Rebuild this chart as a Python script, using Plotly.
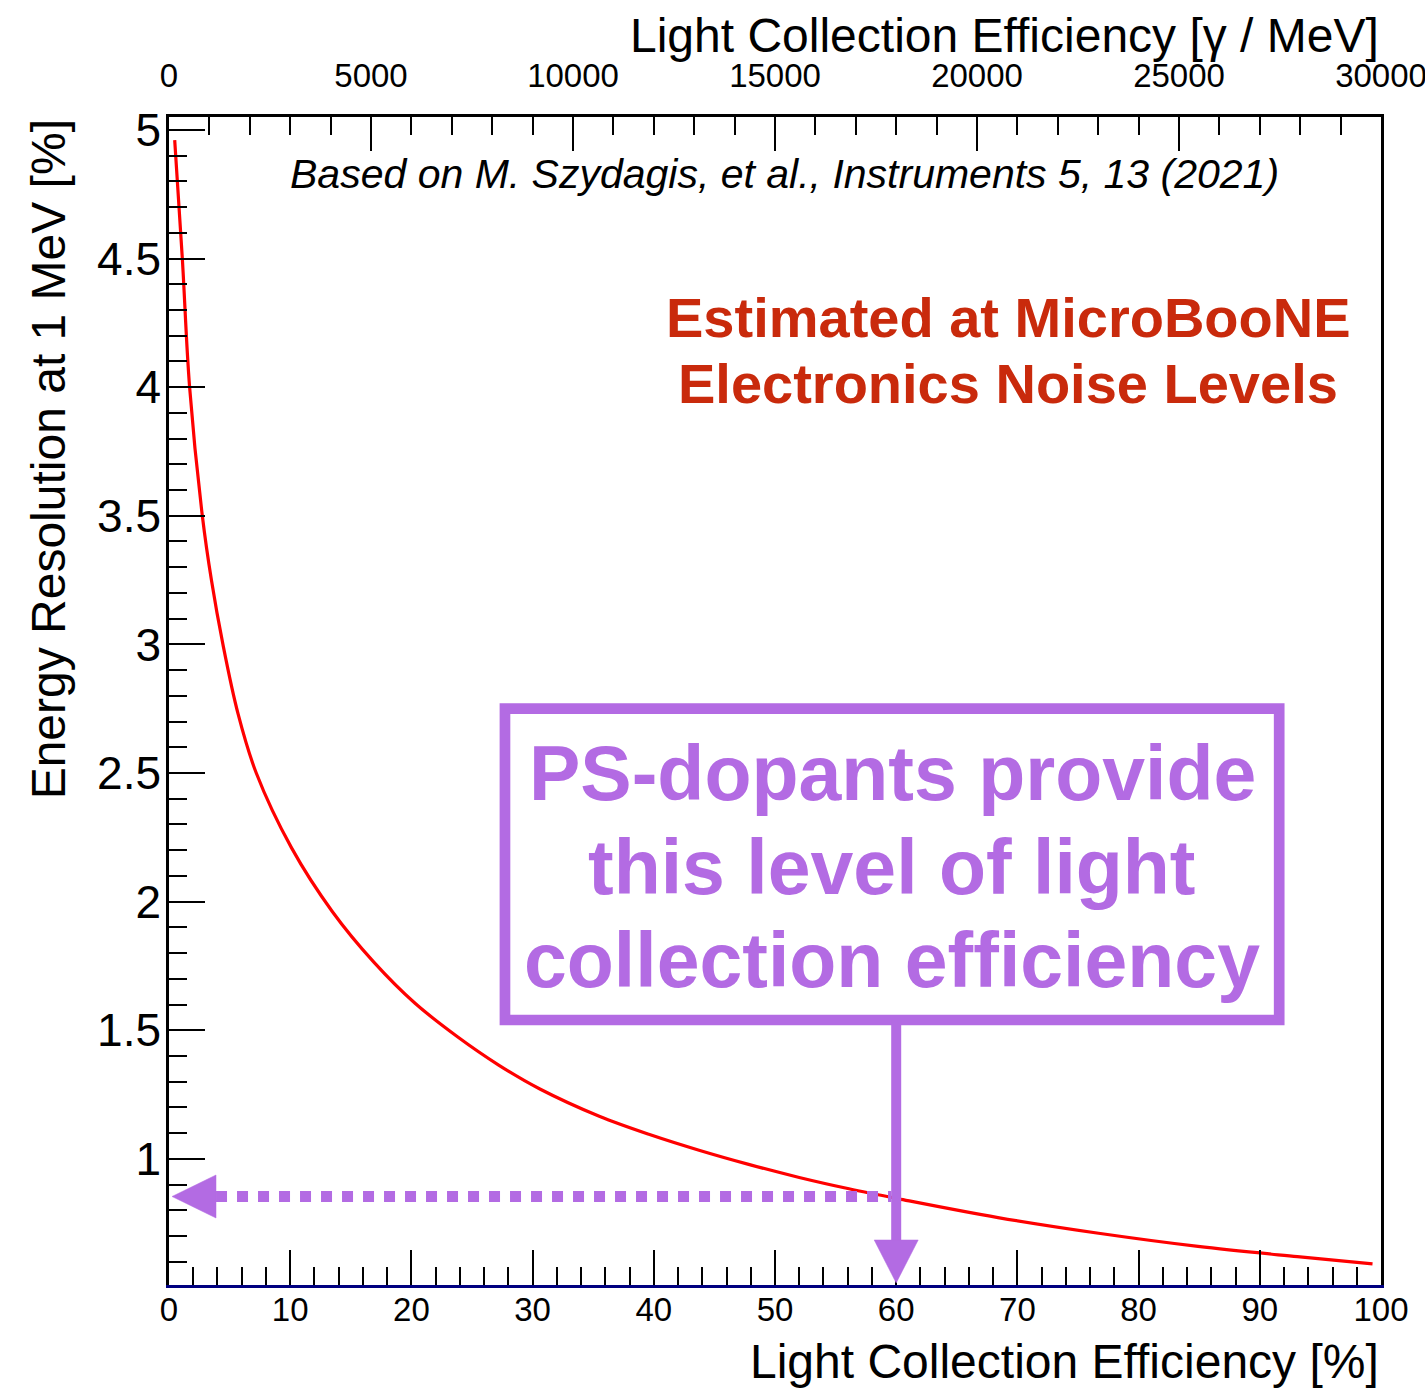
import plotly.graph_objects as go

# Energy resolution at 1 MeV versus light collection efficiency
eff_pct = [0.47, 1.1, 1.7, 2.75, 3.5, 4.45, 5.7, 7.2, 10.1, 13.5, 16.9, 20.3, 23.8, 27.2,
           30.6, 35.5, 39.65, 43.8, 47.9, 52.0, 56.1, 60.2, 68.4, 76.7, 84.9, 93.1, 99.3]
resolution = [4.96, 4.5, 4.0, 3.5, 3.25, 3.0, 2.73, 2.5, 2.21, 1.96, 1.765, 1.605, 1.475, 1.365,
              1.272, 1.166, 1.095, 1.033, 0.978, 0.928, 0.884, 0.845, 0.772, 0.711, 0.660,
              0.620, 0.592]

# Operating point highlighted by the arrows
ps_eff = 60
ps_res = 0.854

y_ticks = [1, 1.5, 2, 2.5, 3, 3.5, 4, 4.5, 5]
y_ticktext = ["1", "1.5", "2", "2.5", "3", "3.5", "4", "4.5", "5"]
x_ticks = [0, 10, 20, 30, 40, 50, 60, 70, 80, 90, 100]
top_ticks = [0, 5000, 10000, 15000, 20000, 25000, 30000]
top_ticktext = ["0", "5000", "10000", "15000", "20000", "25000", "30000"]

W, H = 1425, 1388
L, R, T, B = 169, 1381, 117, 1285
FONT = "Liberation Sans"
PURPLE = "#B36BE3"
DARKRED = "#C92A0C"


def px(x):
    return (x - L) / (R - L)


def py(y):
    return (B - y) / (B - T)


fig = go.Figure()
fig.add_trace(go.Scatter(
    x=eff_pct, y=resolution, mode="lines",
    line=dict(color="#FF0000", width=3.2, shape="spline", smoothing=1.0),
    hoverinfo="skip", showlegend=False,
))
# empty trace so the top axis is drawn
fig.add_trace(go.Scatter(x=[], y=[], xaxis="x2", yaxis="y", showlegend=False))

tickfont_small = dict(family=FONT, size=33, color="black")

fig.update_layout(
    width=W, height=H,
    margin=dict(l=L, r=W - R, t=T, b=H - B),
    paper_bgcolor="white", plot_bgcolor="white",
    showlegend=False,
    xaxis=dict(
        range=[0, 100], tickvals=x_ticks, ticks="inside", ticklen=35, tickwidth=2,
        tickcolor="black", showline=True, linecolor="#000080", linewidth=3,
        showgrid=False, zeroline=False, tickfont=tickfont_small, ticklabelstandoff=-7,
        ticklabeloverflow="allow", automargin=False,
        minor=dict(dtick=2, tick0=0, ticks="inside", ticklen=18, tickwidth=2,
                   tickcolor="black", showgrid=False),
    ),
    xaxis2=dict(
        range=[0, 30000], overlaying="x", side="top", tickvals=top_ticks,
        ticktext=top_ticktext, ticklabeloverflow="allow", automargin=False,
        ticks="inside", ticklen=34, tickwidth=2, tickcolor="black",
        showline=True, linecolor="black", linewidth=2.5, showgrid=False,
        zeroline=False, tickfont=tickfont_small, ticklabelstandoff=14,
        minor=dict(dtick=1000, tick0=0, ticks="inside", ticklen=18, tickwidth=2,
                   tickcolor="black", showgrid=False),
    ),
    yaxis=dict(
        range=[0.51, 5.05], tickvals=y_ticks, ticktext=y_ticktext, ticks="inside",
        ticklen=36, tickwidth=2, tickcolor="black", showline=True, mirror=True,
        linecolor="black", linewidth=2.5, showgrid=False, zeroline=False,
        tickfont=dict(family=FONT, size=46, color="black"), ticklabelstandoff=-4,
        automargin=False,
        minor=dict(dtick=0.1, tick0=0, ticks="inside", ticklen=18, tickwidth=2,
                   tickcolor="black", showgrid=False),
    ),
)

# Callout box and arrows
box_x0, box_x1 = 27.72, 91.6
box_y0, box_y1 = 1.54, 2.75
shapes = [
    dict(type="rect", xref="x", yref="y", x0=box_x0, x1=box_x1, y0=box_y0, y1=box_y1,
         line=dict(color=PURPLE, width=10.7), fillcolor="rgba(0,0,0,0)"),
    dict(type="line", xref="x", yref="y", x0=ps_eff, x1=ps_eff, y0=box_y0, y1=0.685,
         line=dict(color=PURPLE, width=10)),
    dict(type="path", xref="x", yref="y",
         path=f"M {ps_eff - 1.815},0.685 L {ps_eff + 1.815},0.685 L {ps_eff},0.518 Z",
         fillcolor=PURPLE, line=dict(color=PURPLE, width=0.5)),
    dict(type="line", xref="x", yref="y", x0=3.88, x1=ps_eff - 0.4, y0=ps_res, y1=ps_res,
         line=dict(color=PURPLE, width=11, dash="11px,10px")),
    dict(type="path", xref="x", yref="y",
         path=f"M 3.88,{ps_res + 0.0836} L 3.88,{ps_res - 0.0836} L 0.25,{ps_res} Z",
         fillcolor=PURPLE, line=dict(color=PURPLE, width=0.5)),
]
fig.update_layout(shapes=shapes)


def text_at(text, cx, baseline, size, color="black", bold=False, italic=False,
            xanchor="center", angle=0, yanchor="middle", yval=None):
    font = dict(family=FONT, size=size, color=color,
                weight="bold" if bold else "normal",
                style="italic" if italic else "normal")
    fig.add_annotation(
        text=text, xref="paper", yref="paper",
        x=px(cx), y=py(yval if yval is not None else baseline - 0.3465 * size),
        xanchor=xanchor, yanchor=yanchor, showarrow=False, font=font,
        textangle=angle,
    )


# Axis titles
text_at("Light Collection Efficiency [%]", R, 1378, 48, xanchor="right")
text_at("Light Collection Efficiency [γ / MeV]", R, 52, 48, xanchor="right")
text_at("Energy Resolution at 1 MeV [%]", 65 - 0.3465 * 48, 0, 48, angle=-90,
        yanchor="top", yval=T)

# Reference note
text_at("Based on M. Szydagis, et al., Instruments 5, 13 (2021)", 784, 188, 41, italic=True)

# Noise level label
text_at("Estimated at MicroBooNE", 1008, 337, 56, color=DARKRED, bold=True)
text_at("Electronics Noise Levels", 1008, 403, 56, color=DARKRED, bold=True)

# Callout text
for line, base in [("PS-dopants provide", 800), ("this level of light", 893.3),
                   ("collection efficiency", 986.7)]:
    text_at(line, 892, base, 77, color=PURPLE, bold=True)

fig.write_html("out.html")
